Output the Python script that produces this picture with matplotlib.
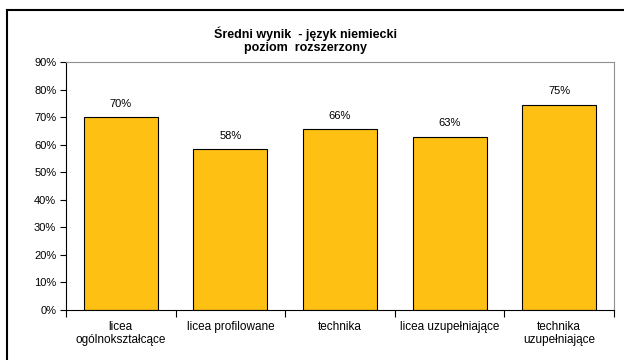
import matplotlib.pyplot as plt
from matplotlib.lines import Line2D
from matplotlib.ticker import PercentFormatter

plt.rcParams['font.family'] = ['Liberation Sans', 'DejaVu Sans']

categories = ["licea\nogólnokształcące", "licea profilowane", "technika",
              "licea uzupełniające", "technika\nuzupełniające"]
values = [0.70, 0.584, 0.657, 0.629, 0.745]
labels = ["70%", "58%", "66%", "63%", "75%"]

fig = plt.figure(figsize=(6.24, 3.6), dpi=100)
ax = fig.add_axes([66 / 624, 1 - 310 / 360, 548 / 624, 248 / 360])

x = list(range(len(categories)))
bars = ax.bar(x, values, width=0.675, color="#FFC014", edgecolor="black", linewidth=0.8)

for b, lab in zip(bars, labels):
    ax.text(b.get_x() + b.get_width() / 2, b.get_height() + 0.03, lab,
            ha="center", va="bottom", fontsize=8)

ax.set_xlim(-0.5, len(categories) - 0.5)
ax.set_ylim(0, 0.9)
ax.set_yticks([i / 10 for i in range(10)])
ax.yaxis.set_major_formatter(PercentFormatter(1.0, decimals=0))
ax.tick_params(axis="y", labelsize=8, length=4, width=0.8, direction="out", pad=3)

# category labels between boundary ticks
ax.set_xticks([i - 0.5 for i in range(len(categories) + 1)])
ax.set_xticklabels([])
ax.set_xticks(x, minor=True)
ax.set_xticklabels(categories, minor=True, fontsize=8.5, linespacing=1.05)
ax.tick_params(axis="x", which="major", length=5, width=0.8, direction="out")
ax.tick_params(axis="x", which="minor", length=0, pad=8)

for s in ["left", "bottom"]:
    ax.spines[s].set_color("black")
    ax.spines[s].set_linewidth(0.8)
for s in ["top", "right"]:
    ax.spines[s].set_color("#909090")
    ax.spines[s].set_linewidth(0.8)

fig.text(305 / 624, 1 - 40 / 360, "Średni wynik  - język niemiecki\npoziom  rozszerzony",
         ha="center", va="center", fontsize=9, fontweight="bold", linespacing=1.15)

# outer chart border (left and top visible)
fig.add_artist(Line2D([7 / 624, 7 / 624], [0, 1 - 9.5 / 360], color="black", linewidth=1.5,
                      transform=fig.transFigure))
fig.add_artist(Line2D([7 / 624, 1], [1 - 9.5 / 360, 1 - 9.5 / 360], color="black", linewidth=1.5,
                      transform=fig.transFigure))

fig.savefig("out.png", dpi=100)
